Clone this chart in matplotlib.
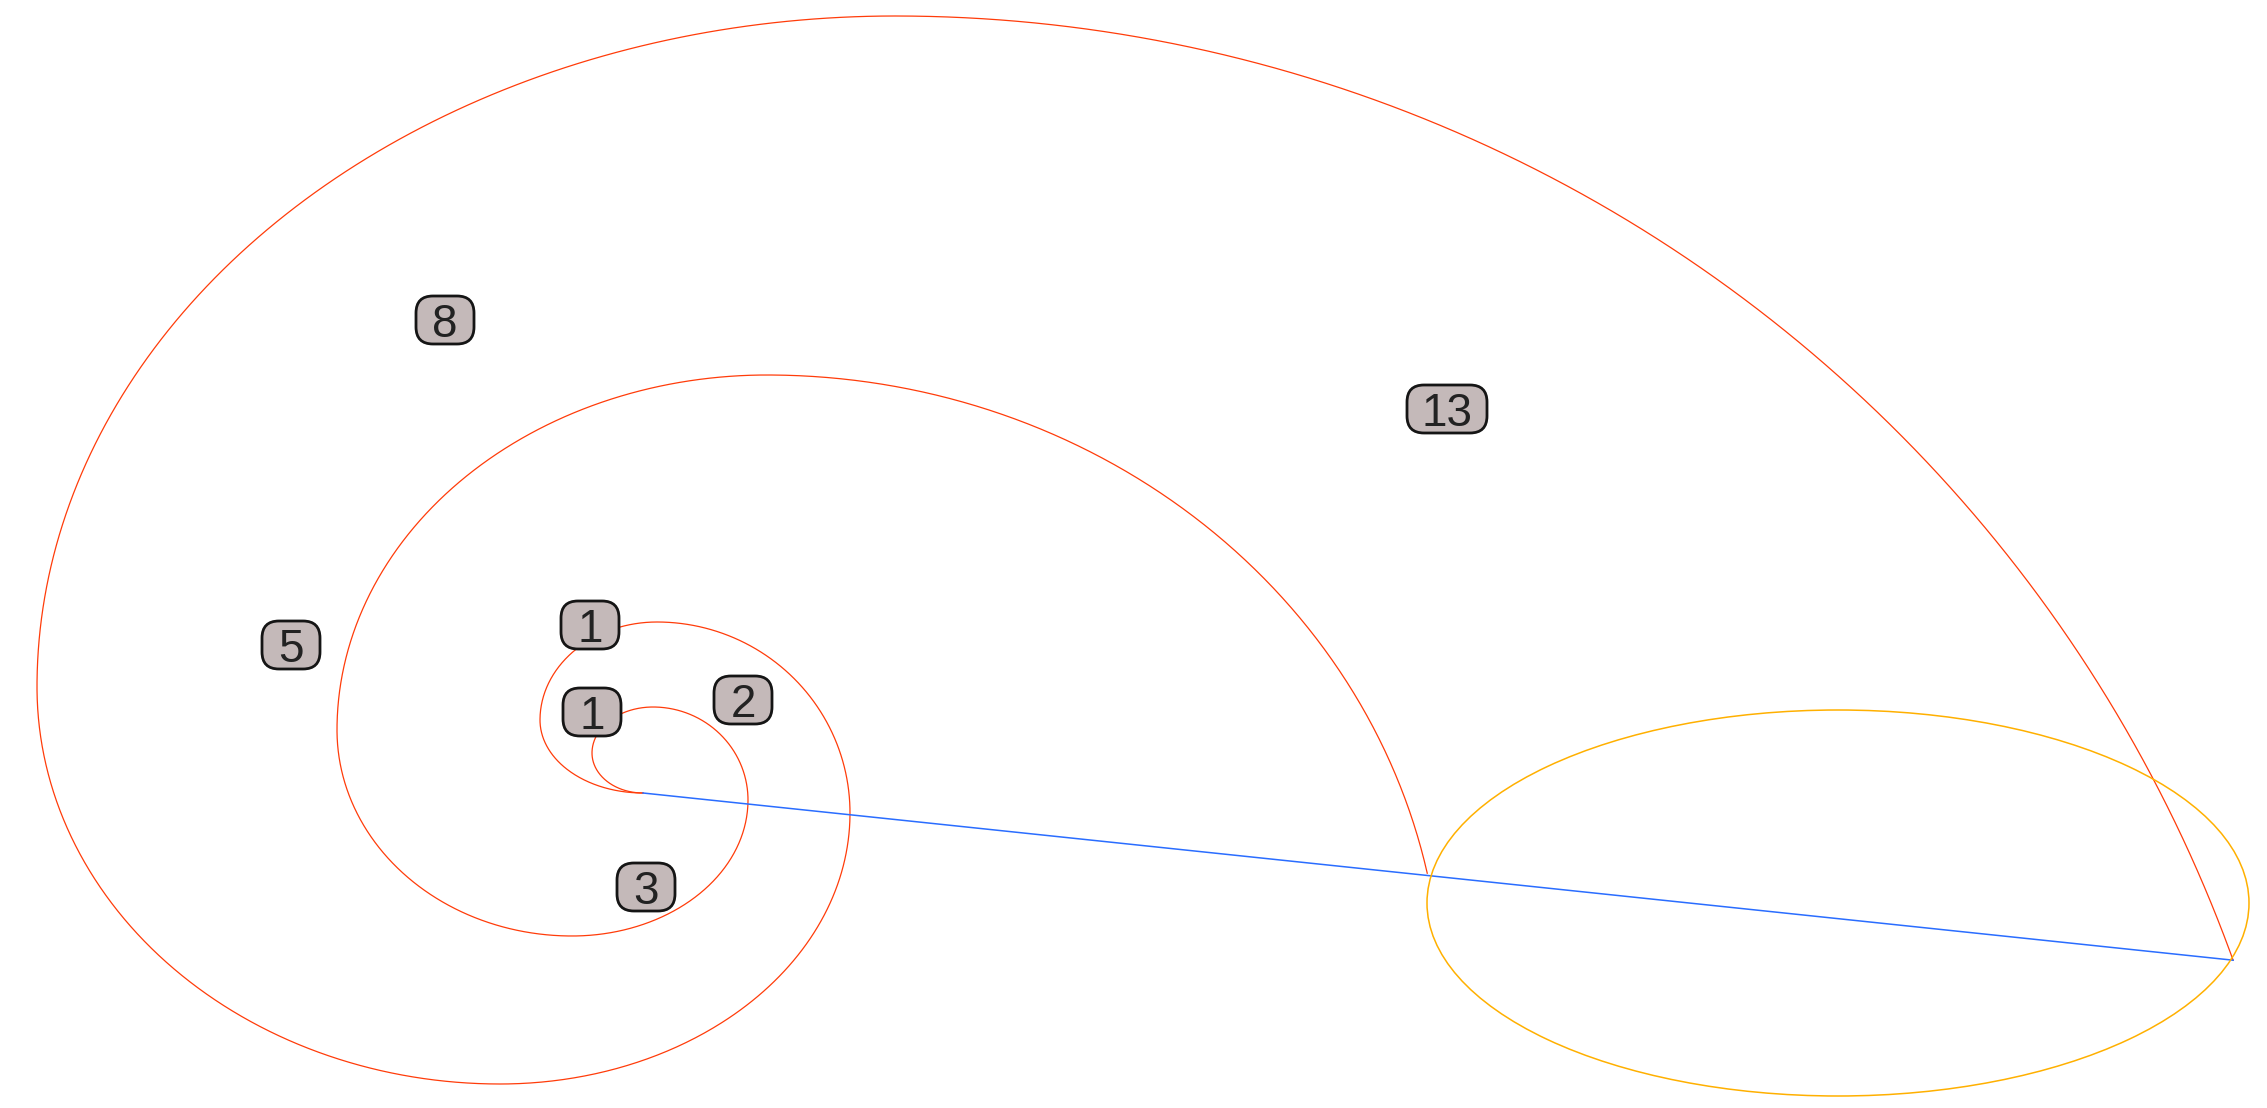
import numpy as np
import matplotlib.pyplot as plt
import matplotlib.transforms as mtransforms
from matplotlib.patches import FancyBboxPatch, Ellipse

# Punto de partida comun de las dos espirales (unidades de la imagen, y hacia abajo)
origen_x = 643
origen_y = 793

# Semiejes (x, y) de cada cuarto de arco de la espiral grande
grande_rx = [103, 117, 193, 350, 463, 858, 1424]
grande_ry = [73, 98, 191, 271, 397, 671, 1435]
grande_ultimo = 70  # grados que recorre el ultimo arco

# Semiejes de cada cuarto de arco de la espiral chica
chica_rx = [51, 61, 95, 176, 235, 430, 675]
chica_ry = [40, 46, 93, 136, 206, 355, 629]
chica_ultimo = 78

# Numeros de Fibonacci y donde va cada etiqueta
etiquetas = [1, 1, 2, 3, 5, 8, 13]
etiqueta_x = [592, 590, 743, 646, 291, 445, 1447]
etiqueta_y = [712, 625, 700, 887, 645, 320, 409]

# Circulo naranjo (se ve como elipse)
circulo_cx = 1838
circulo_cy = 903
circulo_rx = 411
circulo_ry = 193


"""
Funcion: espiral
Entrada: listas de semiejes de cada cuarto de arco y grados del ultimo arco
Salida: arreglos x, y de la curva
"""
def espiral(rx_list, ry_list, ultimo):
    px, py = origen_x, origen_y
    xs, ys = [px], [py]
    for i in range(len(rx_list)):
        rx, ry = rx_list[i], ry_list[i]
        a0 = np.radians(90 + 90 * i)
        barrido = 90 if i < len(rx_list) - 1 else ultimo
        # centro del arco para que empiece donde termino el anterior
        cx = px - rx * np.cos(a0)
        cy = py - ry * np.sin(a0)
        a = np.linspace(a0, a0 + np.radians(barrido), 200)
        x = cx + rx * np.cos(a)
        y = cy + ry * np.sin(a)
        xs.extend(x[1:])
        ys.extend(y[1:])
        px, py = x[-1], y[-1]
    return np.array(xs), np.array(ys)


fig = plt.figure(figsize=(22.67, 11.08), dpi=100)
ax = fig.add_axes([0, 0, 1, 1])
ax.set_xlim(0, 2267)
ax.set_ylim(1108, 0)
ax.axis('off')

gx, gy = espiral(grande_rx, grande_ry, grande_ultimo)
cx_, cy_ = espiral(chica_rx, chica_ry, chica_ultimo)

ax.plot(gx, gy, color='#ff3c0a', lw=0.9, zorder=2)
ax.plot(cx_, cy_, color='#ff3c0a', lw=0.9, zorder=2)

# linea azul desde el origen hasta el final de la espiral grande
ax.plot([origen_x, gx[-1]], [origen_y, gy[-1]], color='#2a6dff', lw=1.1, zorder=3)

ax.add_patch(Ellipse((circulo_cx, circulo_cy), 2 * circulo_rx, 2 * circulo_ry,
                     fill=False, edgecolor='#ffb000', lw=1.1, zorder=3))

# etiquetas con caja redondeada (tamano en pixeles)
for v, x, y in zip(etiquetas, etiqueta_x, etiqueta_y):
    w = 58 if v < 10 else 80
    h = 48
    tr = mtransforms.IdentityTransform() + mtransforms.ScaledTranslation(x, y, ax.transData)
    caja = FancyBboxPatch((-w / 2, -h / 2), w, h,
                          boxstyle='round,pad=0,rounding_size=17',
                          facecolor='#c4b9b9', edgecolor='#151515', lw=2.0,
                          transform=tr, zorder=4)
    ax.add_patch(caja)
    ax.text(x, y, str(v), ha='center', va='center_baseline', fontsize=33,
            family='Liberation Sans', color='#222222', zorder=5)

fig.savefig('out.png', dpi=100)
